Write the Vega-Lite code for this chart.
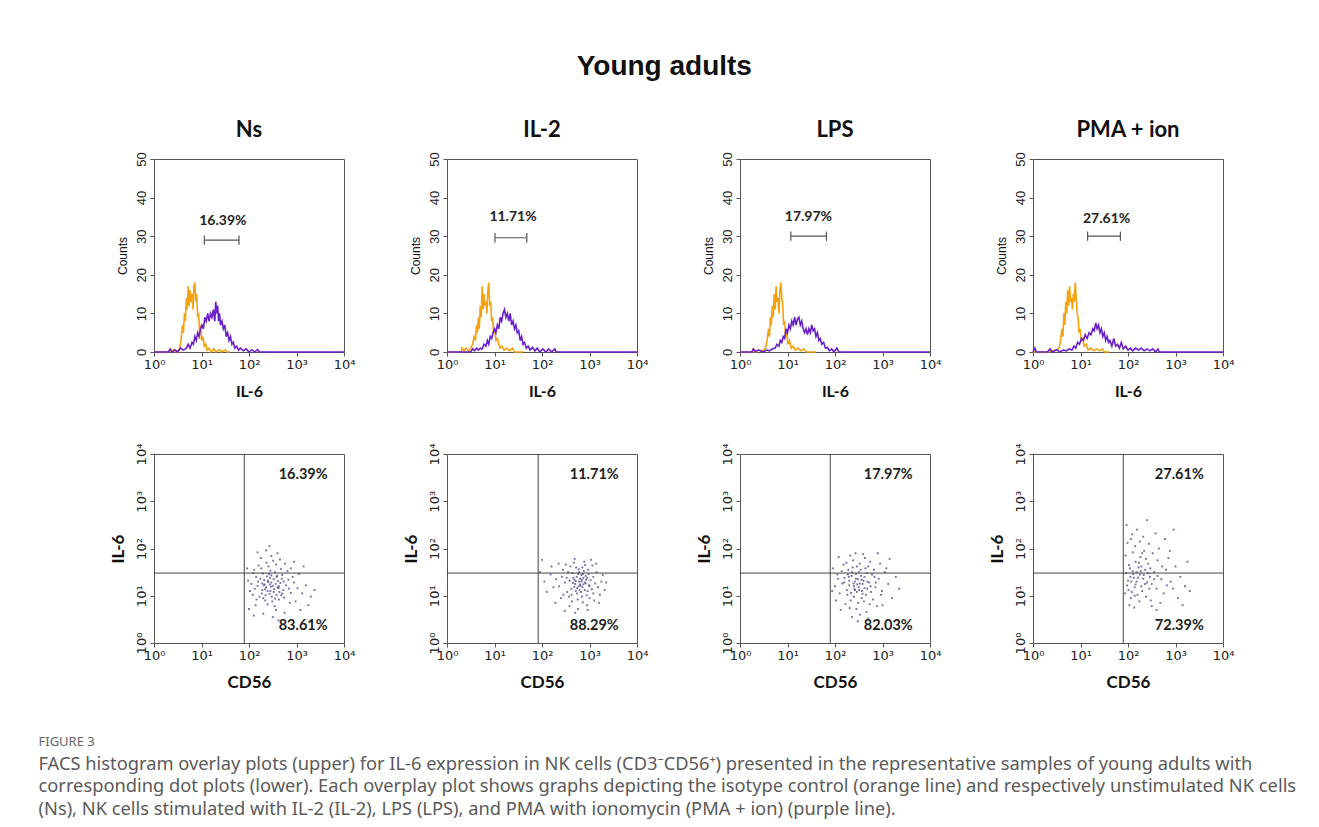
{
"$schema": "https://vega.github.io/schema/vega-lite/v6.json",
"background": "white",
"padding": {"left": 38, "top": 53, "right": 10, "bottom": 10},
"config": {
  "font": "Liberation Sans",
  "view": {"stroke": "#555", "strokeWidth": 1},
  "axis": {"domain": false, "grid": false, "tickColor": "#555", "tickSize": 4, "labelColor": "#222", "labelFont": "Liberation Sans", "labelFontSize": 12.5, "labelFlush": false, "labelOverlap": false, "labelBound": false, "labelSeparation": 0, "titleColor": "#111"}
},
"title": {"text": "Young adults", "font": "Liberation Sans", "fontSize": 28, "fontWeight": "bold", "color": "#111", "anchor": "middle", "frame": "bounds", "offset": 38, "dx": -3},
"spacing": 295,
"bounds": "flush",
"datasets": {
"hist": [
{"p":"Ns","k":"i","x":0,"c":0},{"p":"Ns","k":"i","x":0.3,"c":0},{"p":"Ns","k":"i","x":0.4,"c":0.5},{"p":"Ns","k":"i","x":0.48,"c":0},{"p":"Ns","k":"i","x":0.54,"c":1},{"p":"Ns","k":"i","x":0.57,"c":3},{"p":"Ns","k":"i","x":0.6,"c":7},{"p":"Ns","k":"i","x":0.62,"c":5},{"p":"Ns","k":"i","x":0.64,"c":10},{"p":"Ns","k":"i","x":0.66,"c":8},{"p":"Ns","k":"i","x":0.68,"c":14},{"p":"Ns","k":"i","x":0.7,"c":11},{"p":"Ns","k":"i","x":0.72,"c":17},{"p":"Ns","k":"i","x":0.74,"c":12},{"p":"Ns","k":"i","x":0.76,"c":16},{"p":"Ns","k":"i","x":0.78,"c":13},{"p":"Ns","k":"i","x":0.8,"c":15},{"p":"Ns","k":"i","x":0.82,"c":11},{"p":"Ns","k":"i","x":0.84,"c":17},{"p":"Ns","k":"i","x":0.86,"c":18},{"p":"Ns","k":"i","x":0.88,"c":13},{"p":"Ns","k":"i","x":0.9,"c":15},{"p":"Ns","k":"i","x":0.92,"c":9},{"p":"Ns","k":"i","x":0.94,"c":10},{"p":"Ns","k":"i","x":0.96,"c":5},{"p":"Ns","k":"i","x":0.98,"c":7},{"p":"Ns","k":"i","x":1.0,"c":3},{"p":"Ns","k":"i","x":1.03,"c":4},{"p":"Ns","k":"i","x":1.06,"c":1.5},{"p":"Ns","k":"i","x":1.09,"c":2},{"p":"Ns","k":"i","x":1.12,"c":0.5},{"p":"Ns","k":"i","x":1.16,"c":1},{"p":"Ns","k":"i","x":1.2,"c":0},{"p":"Ns","k":"i","x":1.26,"c":0.8},{"p":"Ns","k":"i","x":1.3,"c":0},{"p":"Ns","k":"i","x":1.38,"c":0.6},{"p":"Ns","k":"i","x":1.42,"c":0},{"p":"Ns","k":"i","x":1.5,"c":0.5},{"p":"Ns","k":"i","x":1.55,"c":0},{"p":"Ns","k":"i","x":1.6,"c":0},
{"p":"Ns","k":"s","x":0,"c":0},{"p":"Ns","k":"s","x":0.3,"c":0},{"p":"Ns","k":"s","x":0.34,"c":0.8},{"p":"Ns","k":"s","x":0.38,"c":0},{"p":"Ns","k":"s","x":0.44,"c":0.6},{"p":"Ns","k":"s","x":0.5,"c":0},{"p":"Ns","k":"s","x":0.56,"c":1},{"p":"Ns","k":"s","x":0.62,"c":0.5},{"p":"Ns","k":"s","x":0.68,"c":1},{"p":"Ns","k":"s","x":0.72,"c":2},{"p":"Ns","k":"s","x":0.76,"c":1},{"p":"Ns","k":"s","x":0.8,"c":2.5},{"p":"Ns","k":"s","x":0.83,"c":2},{"p":"Ns","k":"s","x":0.86,"c":4},{"p":"Ns","k":"s","x":0.89,"c":3},{"p":"Ns","k":"s","x":0.92,"c":5},{"p":"Ns","k":"s","x":0.95,"c":4},{"p":"Ns","k":"s","x":0.98,"c":6},{"p":"Ns","k":"s","x":1.01,"c":7},{"p":"Ns","k":"s","x":1.04,"c":6},{"p":"Ns","k":"s","x":1.07,"c":9},{"p":"Ns","k":"s","x":1.1,"c":8},{"p":"Ns","k":"s","x":1.13,"c":10},{"p":"Ns","k":"s","x":1.16,"c":8},{"p":"Ns","k":"s","x":1.19,"c":10},{"p":"Ns","k":"s","x":1.22,"c":9},{"p":"Ns","k":"s","x":1.25,"c":11},{"p":"Ns","k":"s","x":1.28,"c":8},{"p":"Ns","k":"s","x":1.3,"c":13},{"p":"Ns","k":"s","x":1.32,"c":10},{"p":"Ns","k":"s","x":1.34,"c":12},{"p":"Ns","k":"s","x":1.36,"c":8},{"p":"Ns","k":"s","x":1.38,"c":10},{"p":"Ns","k":"s","x":1.4,"c":7},{"p":"Ns","k":"s","x":1.43,"c":8},{"p":"Ns","k":"s","x":1.46,"c":6},{"p":"Ns","k":"s","x":1.49,"c":7},{"p":"Ns","k":"s","x":1.52,"c":4},{"p":"Ns","k":"s","x":1.55,"c":5},{"p":"Ns","k":"s","x":1.58,"c":3},{"p":"Ns","k":"s","x":1.61,"c":4},{"p":"Ns","k":"s","x":1.64,"c":2},{"p":"Ns","k":"s","x":1.67,"c":2.5},{"p":"Ns","k":"s","x":1.7,"c":1},{"p":"Ns","k":"s","x":1.74,"c":1.5},{"p":"Ns","k":"s","x":1.78,"c":0.5},{"p":"Ns","k":"s","x":1.82,"c":1},{"p":"Ns","k":"s","x":1.88,"c":0.3},{"p":"Ns","k":"s","x":1.94,"c":0.8},{"p":"Ns","k":"s","x":2.0,"c":0},{"p":"Ns","k":"s","x":2.06,"c":0.6},{"p":"Ns","k":"s","x":2.12,"c":0},{"p":"Ns","k":"s","x":2.18,"c":0.6},{"p":"Ns","k":"s","x":2.22,"c":0},{"p":"Ns","k":"s","x":4,"c":0},
{"p":"Ns","k":"b","x":1.06,"x2":1.79,"c":29},{"p":"Ns","k":"e","x":1.06,"c":27.8,"c2":30.2},{"p":"Ns","k":"e","x":1.79,"c":27.8,"c2":30.2},{"p":"Ns","k":"l","x":1.45,"c":34,"t":"16.39%"},
{"p":"IL-2","k":"i","x":0,"c":0},{"p":"IL-2","k":"i","x":0.3,"c":0},{"p":"IL-2","k":"i","x":0.32,"c":1},{"p":"IL-2","k":"i","x":0.36,"c":0.3},{"p":"IL-2","k":"i","x":0.4,"c":1},{"p":"IL-2","k":"i","x":0.46,"c":0.2},{"p":"IL-2","k":"i","x":0.5,"c":1},{"p":"IL-2","k":"i","x":0.54,"c":2},{"p":"IL-2","k":"i","x":0.57,"c":4},{"p":"IL-2","k":"i","x":0.6,"c":3},{"p":"IL-2","k":"i","x":0.62,"c":7},{"p":"IL-2","k":"i","x":0.64,"c":5},{"p":"IL-2","k":"i","x":0.66,"c":9},{"p":"IL-2","k":"i","x":0.68,"c":6},{"p":"IL-2","k":"i","x":0.7,"c":12},{"p":"IL-2","k":"i","x":0.72,"c":9},{"p":"IL-2","k":"i","x":0.74,"c":17},{"p":"IL-2","k":"i","x":0.76,"c":11},{"p":"IL-2","k":"i","x":0.78,"c":15},{"p":"IL-2","k":"i","x":0.8,"c":12},{"p":"IL-2","k":"i","x":0.82,"c":13},{"p":"IL-2","k":"i","x":0.84,"c":10},{"p":"IL-2","k":"i","x":0.86,"c":16},{"p":"IL-2","k":"i","x":0.88,"c":18},{"p":"IL-2","k":"i","x":0.9,"c":12},{"p":"IL-2","k":"i","x":0.92,"c":13},{"p":"IL-2","k":"i","x":0.94,"c":8},{"p":"IL-2","k":"i","x":0.96,"c":9},{"p":"IL-2","k":"i","x":0.98,"c":5},{"p":"IL-2","k":"i","x":1.0,"c":6},{"p":"IL-2","k":"i","x":1.03,"c":3},{"p":"IL-2","k":"i","x":1.06,"c":3.5},{"p":"IL-2","k":"i","x":1.09,"c":2},{"p":"IL-2","k":"i","x":1.12,"c":1},{"p":"IL-2","k":"i","x":1.16,"c":1.5},{"p":"IL-2","k":"i","x":1.2,"c":0.5},{"p":"IL-2","k":"i","x":1.26,"c":1},{"p":"IL-2","k":"i","x":1.32,"c":0.3},{"p":"IL-2","k":"i","x":1.38,"c":1},{"p":"IL-2","k":"i","x":1.42,"c":0},{"p":"IL-2","k":"i","x":1.6,"c":0},
{"p":"IL-2","k":"s","x":0,"c":0},{"p":"IL-2","k":"s","x":0.5,"c":0},{"p":"IL-2","k":"s","x":0.54,"c":0.8},{"p":"IL-2","k":"s","x":0.58,"c":0.3},{"p":"IL-2","k":"s","x":0.62,"c":1},{"p":"IL-2","k":"s","x":0.66,"c":0.5},{"p":"IL-2","k":"s","x":0.7,"c":1},{"p":"IL-2","k":"s","x":0.74,"c":0.8},{"p":"IL-2","k":"s","x":0.78,"c":2},{"p":"IL-2","k":"s","x":0.82,"c":1.5},{"p":"IL-2","k":"s","x":0.85,"c":3},{"p":"IL-2","k":"s","x":0.88,"c":2},{"p":"IL-2","k":"s","x":0.91,"c":4},{"p":"IL-2","k":"s","x":0.94,"c":3.5},{"p":"IL-2","k":"s","x":0.97,"c":5},{"p":"IL-2","k":"s","x":1.0,"c":6},{"p":"IL-2","k":"s","x":1.03,"c":5},{"p":"IL-2","k":"s","x":1.06,"c":7},{"p":"IL-2","k":"s","x":1.09,"c":6},{"p":"IL-2","k":"s","x":1.12,"c":9},{"p":"IL-2","k":"s","x":1.15,"c":8},{"p":"IL-2","k":"s","x":1.18,"c":10},{"p":"IL-2","k":"s","x":1.21,"c":11},{"p":"IL-2","k":"s","x":1.24,"c":9},{"p":"IL-2","k":"s","x":1.27,"c":10},{"p":"IL-2","k":"s","x":1.3,"c":8},{"p":"IL-2","k":"s","x":1.33,"c":10},{"p":"IL-2","k":"s","x":1.36,"c":7},{"p":"IL-2","k":"s","x":1.39,"c":8},{"p":"IL-2","k":"s","x":1.42,"c":6},{"p":"IL-2","k":"s","x":1.45,"c":7},{"p":"IL-2","k":"s","x":1.48,"c":5},{"p":"IL-2","k":"s","x":1.51,"c":5.5},{"p":"IL-2","k":"s","x":1.54,"c":3},{"p":"IL-2","k":"s","x":1.57,"c":4},{"p":"IL-2","k":"s","x":1.6,"c":2},{"p":"IL-2","k":"s","x":1.63,"c":2.5},{"p":"IL-2","k":"s","x":1.67,"c":1},{"p":"IL-2","k":"s","x":1.71,"c":1.5},{"p":"IL-2","k":"s","x":1.75,"c":0.5},{"p":"IL-2","k":"s","x":1.8,"c":1.2},{"p":"IL-2","k":"s","x":1.85,"c":0.3},{"p":"IL-2","k":"s","x":1.9,"c":1},{"p":"IL-2","k":"s","x":1.95,"c":0},{"p":"IL-2","k":"s","x":2.02,"c":0.8},{"p":"IL-2","k":"s","x":2.08,"c":0},{"p":"IL-2","k":"s","x":2.14,"c":0.8},{"p":"IL-2","k":"s","x":2.2,"c":0},{"p":"IL-2","k":"s","x":2.27,"c":0.8},{"p":"IL-2","k":"s","x":2.3,"c":0},{"p":"IL-2","k":"s","x":4,"c":0},
{"p":"IL-2","k":"b","x":1.01,"x2":1.68,"c":29.6},{"p":"IL-2","k":"e","x":1.01,"c":28.4,"c2":30.8},{"p":"IL-2","k":"e","x":1.68,"c":28.4,"c2":30.8},{"p":"IL-2","k":"l","x":1.39,"c":35,"t":"11.71%"},
{"p":"LPS","k":"i","x":0,"c":0},{"p":"LPS","k":"i","x":0.25,"c":0},{"p":"LPS","k":"i","x":0.28,"c":0.8},{"p":"LPS","k":"i","x":0.32,"c":0},{"p":"LPS","k":"i","x":0.4,"c":0.5},{"p":"LPS","k":"i","x":0.48,"c":0.3},{"p":"LPS","k":"i","x":0.54,"c":1},{"p":"LPS","k":"i","x":0.57,"c":3},{"p":"LPS","k":"i","x":0.6,"c":6},{"p":"LPS","k":"i","x":0.62,"c":4},{"p":"LPS","k":"i","x":0.64,"c":9},{"p":"LPS","k":"i","x":0.66,"c":7},{"p":"LPS","k":"i","x":0.68,"c":12},{"p":"LPS","k":"i","x":0.7,"c":9},{"p":"LPS","k":"i","x":0.72,"c":15},{"p":"LPS","k":"i","x":0.74,"c":11},{"p":"LPS","k":"i","x":0.76,"c":17},{"p":"LPS","k":"i","x":0.78,"c":13},{"p":"LPS","k":"i","x":0.8,"c":14},{"p":"LPS","k":"i","x":0.82,"c":10},{"p":"LPS","k":"i","x":0.84,"c":16},{"p":"LPS","k":"i","x":0.86,"c":18},{"p":"LPS","k":"i","x":0.88,"c":14},{"p":"LPS","k":"i","x":0.9,"c":12},{"p":"LPS","k":"i","x":0.92,"c":7},{"p":"LPS","k":"i","x":0.94,"c":8},{"p":"LPS","k":"i","x":0.96,"c":4},{"p":"LPS","k":"i","x":0.98,"c":5},{"p":"LPS","k":"i","x":1.01,"c":2},{"p":"LPS","k":"i","x":1.04,"c":3},{"p":"LPS","k":"i","x":1.08,"c":1},{"p":"LPS","k":"i","x":1.12,"c":1.5},{"p":"LPS","k":"i","x":1.16,"c":0.5},{"p":"LPS","k":"i","x":1.22,"c":1},{"p":"LPS","k":"i","x":1.28,"c":0.3},{"p":"LPS","k":"i","x":1.34,"c":0.8},{"p":"LPS","k":"i","x":1.4,"c":0},{"p":"LPS","k":"i","x":1.6,"c":0},
{"p":"LPS","k":"s","x":0,"c":0},{"p":"LPS","k":"s","x":0.25,"c":0},{"p":"LPS","k":"s","x":0.28,"c":0.8},{"p":"LPS","k":"s","x":0.32,"c":0.2},{"p":"LPS","k":"s","x":0.4,"c":0.5},{"p":"LPS","k":"s","x":0.48,"c":0},{"p":"LPS","k":"s","x":0.56,"c":0.5},{"p":"LPS","k":"s","x":0.62,"c":0.3},{"p":"LPS","k":"s","x":0.68,"c":0.8},{"p":"LPS","k":"s","x":0.74,"c":1},{"p":"LPS","k":"s","x":0.78,"c":2},{"p":"LPS","k":"s","x":0.82,"c":1.5},{"p":"LPS","k":"s","x":0.85,"c":3},{"p":"LPS","k":"s","x":0.88,"c":2.5},{"p":"LPS","k":"s","x":0.91,"c":4},{"p":"LPS","k":"s","x":0.94,"c":3.5},{"p":"LPS","k":"s","x":0.97,"c":6},{"p":"LPS","k":"s","x":1.0,"c":5},{"p":"LPS","k":"s","x":1.03,"c":7},{"p":"LPS","k":"s","x":1.06,"c":6},{"p":"LPS","k":"s","x":1.09,"c":8},{"p":"LPS","k":"s","x":1.12,"c":7},{"p":"LPS","k":"s","x":1.15,"c":9},{"p":"LPS","k":"s","x":1.18,"c":7},{"p":"LPS","k":"s","x":1.21,"c":8.5},{"p":"LPS","k":"s","x":1.24,"c":9},{"p":"LPS","k":"s","x":1.27,"c":7},{"p":"LPS","k":"s","x":1.3,"c":8},{"p":"LPS","k":"s","x":1.33,"c":6},{"p":"LPS","k":"s","x":1.36,"c":5},{"p":"LPS","k":"s","x":1.39,"c":6},{"p":"LPS","k":"s","x":1.42,"c":4.5},{"p":"LPS","k":"s","x":1.45,"c":6},{"p":"LPS","k":"s","x":1.48,"c":5},{"p":"LPS","k":"s","x":1.51,"c":7},{"p":"LPS","k":"s","x":1.54,"c":5.5},{"p":"LPS","k":"s","x":1.57,"c":6},{"p":"LPS","k":"s","x":1.6,"c":4},{"p":"LPS","k":"s","x":1.63,"c":5},{"p":"LPS","k":"s","x":1.66,"c":3},{"p":"LPS","k":"s","x":1.69,"c":3.5},{"p":"LPS","k":"s","x":1.72,"c":2},{"p":"LPS","k":"s","x":1.76,"c":2.5},{"p":"LPS","k":"s","x":1.8,"c":1},{"p":"LPS","k":"s","x":1.84,"c":1.2},{"p":"LPS","k":"s","x":1.88,"c":0.3},{"p":"LPS","k":"s","x":1.93,"c":0.8},{"p":"LPS","k":"s","x":1.98,"c":0},{"p":"LPS","k":"s","x":2.04,"c":1},{"p":"LPS","k":"s","x":2.08,"c":0},{"p":"LPS","k":"s","x":4,"c":0},
{"p":"LPS","k":"b","x":1.07,"x2":1.82,"c":30},{"p":"LPS","k":"e","x":1.07,"c":28.8,"c2":31.2},{"p":"LPS","k":"e","x":1.82,"c":28.8,"c2":31.2},{"p":"LPS","k":"l","x":1.44,"c":35,"t":"17.97%"},
{"p":"PMA + ion","k":"i","x":0,"c":0},{"p":"PMA + ion","k":"i","x":0.3,"c":0},{"p":"PMA + ion","k":"i","x":0.4,"c":0.3},{"p":"PMA + ion","k":"i","x":0.5,"c":0.5},{"p":"PMA + ion","k":"i","x":0.55,"c":1},{"p":"PMA + ion","k":"i","x":0.58,"c":3},{"p":"PMA + ion","k":"i","x":0.61,"c":6},{"p":"PMA + ion","k":"i","x":0.63,"c":4},{"p":"PMA + ion","k":"i","x":0.65,"c":10},{"p":"PMA + ion","k":"i","x":0.67,"c":7},{"p":"PMA + ion","k":"i","x":0.69,"c":13},{"p":"PMA + ion","k":"i","x":0.71,"c":10},{"p":"PMA + ion","k":"i","x":0.73,"c":16},{"p":"PMA + ion","k":"i","x":0.75,"c":12},{"p":"PMA + ion","k":"i","x":0.77,"c":17},{"p":"PMA + ion","k":"i","x":0.79,"c":13},{"p":"PMA + ion","k":"i","x":0.81,"c":14},{"p":"PMA + ion","k":"i","x":0.83,"c":11},{"p":"PMA + ion","k":"i","x":0.85,"c":15},{"p":"PMA + ion","k":"i","x":0.87,"c":13},{"p":"PMA + ion","k":"i","x":0.89,"c":18},{"p":"PMA + ion","k":"i","x":0.91,"c":14},{"p":"PMA + ion","k":"i","x":0.93,"c":10},{"p":"PMA + ion","k":"i","x":0.95,"c":9},{"p":"PMA + ion","k":"i","x":0.97,"c":5},{"p":"PMA + ion","k":"i","x":0.99,"c":6},{"p":"PMA + ion","k":"i","x":1.02,"c":3},{"p":"PMA + ion","k":"i","x":1.05,"c":3.5},{"p":"PMA + ion","k":"i","x":1.08,"c":1.5},{"p":"PMA + ion","k":"i","x":1.12,"c":2},{"p":"PMA + ion","k":"i","x":1.16,"c":0.5},{"p":"PMA + ion","k":"i","x":1.22,"c":1},{"p":"PMA + ion","k":"i","x":1.28,"c":0.3},{"p":"PMA + ion","k":"i","x":1.34,"c":0.8},{"p":"PMA + ion","k":"i","x":1.4,"c":0.3},{"p":"PMA + ion","k":"i","x":1.46,"c":0.8},{"p":"PMA + ion","k":"i","x":1.5,"c":0},{"p":"PMA + ion","k":"i","x":1.6,"c":0},
{"p":"PMA + ion","k":"s","x":0,"c":0},{"p":"PMA + ion","k":"s","x":0.04,"c":1},{"p":"PMA + ion","k":"s","x":0.07,"c":0},{"p":"PMA + ion","k":"s","x":0.3,"c":0},{"p":"PMA + ion","k":"s","x":0.36,"c":0.8},{"p":"PMA + ion","k":"s","x":0.4,"c":0},{"p":"PMA + ion","k":"s","x":0.5,"c":0.6},{"p":"PMA + ion","k":"s","x":0.56,"c":0},{"p":"PMA + ion","k":"s","x":0.64,"c":0.5},{"p":"PMA + ion","k":"s","x":0.7,"c":0.3},{"p":"PMA + ion","k":"s","x":0.76,"c":0.8},{"p":"PMA + ion","k":"s","x":0.82,"c":0.5},{"p":"PMA + ion","k":"s","x":0.86,"c":1.5},{"p":"PMA + ion","k":"s","x":0.9,"c":1},{"p":"PMA + ion","k":"s","x":0.94,"c":2.5},{"p":"PMA + ion","k":"s","x":0.98,"c":2},{"p":"PMA + ion","k":"s","x":1.02,"c":3.5},{"p":"PMA + ion","k":"s","x":1.06,"c":3},{"p":"PMA + ion","k":"s","x":1.1,"c":4.5},{"p":"PMA + ion","k":"s","x":1.14,"c":3.5},{"p":"PMA + ion","k":"s","x":1.18,"c":5},{"p":"PMA + ion","k":"s","x":1.22,"c":4.5},{"p":"PMA + ion","k":"s","x":1.26,"c":6},{"p":"PMA + ion","k":"s","x":1.29,"c":5.5},{"p":"PMA + ion","k":"s","x":1.32,"c":7.5},{"p":"PMA + ion","k":"s","x":1.35,"c":6},{"p":"PMA + ion","k":"s","x":1.38,"c":7},{"p":"PMA + ion","k":"s","x":1.41,"c":5},{"p":"PMA + ion","k":"s","x":1.44,"c":6},{"p":"PMA + ion","k":"s","x":1.47,"c":4},{"p":"PMA + ion","k":"s","x":1.5,"c":5},{"p":"PMA + ion","k":"s","x":1.53,"c":3},{"p":"PMA + ion","k":"s","x":1.56,"c":4},{"p":"PMA + ion","k":"s","x":1.59,"c":2.5},{"p":"PMA + ion","k":"s","x":1.62,"c":3},{"p":"PMA + ion","k":"s","x":1.66,"c":1.5},{"p":"PMA + ion","k":"s","x":1.7,"c":3.5},{"p":"PMA + ion","k":"s","x":1.74,"c":1.5},{"p":"PMA + ion","k":"s","x":1.78,"c":2},{"p":"PMA + ion","k":"s","x":1.82,"c":1},{"p":"PMA + ion","k":"s","x":1.86,"c":2.5},{"p":"PMA + ion","k":"s","x":1.9,"c":0.8},{"p":"PMA + ion","k":"s","x":1.95,"c":1.5},{"p":"PMA + ion","k":"s","x":2.0,"c":0.5},{"p":"PMA + ion","k":"s","x":2.05,"c":1},{"p":"PMA + ion","k":"s","x":2.1,"c":0.3},{"p":"PMA + ion","k":"s","x":2.16,"c":1},{"p":"PMA + ion","k":"s","x":2.22,"c":0.5},{"p":"PMA + ion","k":"s","x":2.28,"c":1},{"p":"PMA + ion","k":"s","x":2.34,"c":0.3},{"p":"PMA + ion","k":"s","x":2.4,"c":0.8},{"p":"PMA + ion","k":"s","x":2.46,"c":0.3},{"p":"PMA + ion","k":"s","x":2.52,"c":0.8},{"p":"PMA + ion","k":"s","x":2.58,"c":0},{"p":"PMA + ion","k":"s","x":2.63,"c":0.8},{"p":"PMA + ion","k":"s","x":2.66,"c":0},{"p":"PMA + ion","k":"s","x":4,"c":0},
{"p":"PMA + ion","k":"b","x":1.15,"x2":1.84,"c":30},{"p":"PMA + ion","k":"e","x":1.15,"c":28.8,"c2":31.2},{"p":"PMA + ion","k":"e","x":1.84,"c":28.8,"c2":31.2},{"p":"PMA + ion","k":"l","x":1.55,"c":34.5,"t":"27.61%"}
],
"dots": [
{"p":"Ns","k":"g","a":1.9,"b":1.48},{"p":"Ns","k":"l","a":3.14,"b":3.55,"t":"16.39%"},{"p":"Ns","k":"l","a":3.14,"b":0.36,"t":"83.61%"},
{"p":"IL-2","k":"g","a":1.92,"b":1.48},{"p":"IL-2","k":"l","a":3.1,"b":3.55,"t":"11.71%"},{"p":"IL-2","k":"l","a":3.1,"b":0.36,"t":"88.29%"},
{"p":"LPS","k":"g","a":1.9,"b":1.48},{"p":"LPS","k":"l","a":3.12,"b":3.55,"t":"17.97%"},{"p":"LPS","k":"l","a":3.12,"b":0.36,"t":"82.03%"},
{"p":"PMA + ion","k":"g","a":1.9,"b":1.48},{"p":"PMA + ion","k":"l","a":3.08,"b":3.55,"t":"27.61%"},{"p":"PMA + ion","k":"l","a":3.08,"b":0.36,"t":"72.39%"},
{"p":"Ns","k":"p","a":2.31,"b":1.22},{"p":"Ns","k":"p","a":2.45,"b":1.10},{"p":"Ns","k":"p","a":2.52,"b":1.35},{"p":"Ns","k":"p","a":2.38,"b":1.41},{"p":"Ns","k":"p","a":2.60,"b":1.18},{"p":"Ns","k":"p","a":2.27,"b":1.05},{"p":"Ns","k":"p","a":2.48,"b":0.98},{"p":"Ns","k":"p","a":2.66,"b":1.27},{"p":"Ns","k":"p","a":2.19,"b":1.30},{"p":"Ns","k":"p","a":2.55,"b":1.50},
{"p":"Ns","k":"p","a":2.41,"b":1.62},{"p":"Ns","k":"p","a":2.72,"b":1.12},{"p":"Ns","k":"p","a":2.34,"b":0.90},{"p":"Ns","k":"p","a":2.58,"b":1.02},{"p":"Ns","k":"p","a":2.12,"b":1.15},{"p":"Ns","k":"p","a":2.83,"b":1.34},{"p":"Ns","k":"p","a":2.47,"b":1.28},{"p":"Ns","k":"p","a":2.29,"b":1.47},{"p":"Ns","k":"p","a":2.63,"b":0.92},{"p":"Ns","k":"p","a":2.36,"b":1.18},
{"p":"Ns","k":"p","a":2.50,"b":1.21},{"p":"Ns","k":"p","a":2.44,"b":1.38},{"p":"Ns","k":"p","a":2.70,"b":1.44},{"p":"Ns","k":"p","a":2.22,"b":0.98},{"p":"Ns","k":"p","a":2.57,"b":1.66},{"p":"Ns","k":"p","a":2.05,"b":1.25},{"p":"Ns","k":"p","a":2.88,"b":1.06},{"p":"Ns","k":"p","a":2.39,"b":0.82},{"p":"Ns","k":"p","a":2.61,"b":1.31},{"p":"Ns","k":"p","a":2.26,"b":1.58},
{"p":"Ns","k":"p","a":2.53,"b":1.14},{"p":"Ns","k":"p","a":2.15,"b":1.40},{"p":"Ns","k":"p","a":2.78,"b":1.22},{"p":"Ns","k":"p","a":2.43,"b":1.04},{"p":"Ns","k":"p","a":2.67,"b":1.57},{"p":"Ns","k":"p","a":2.32,"b":1.33},{"p":"Ns","k":"p","a":2.49,"b":0.88},{"p":"Ns","k":"p","a":2.95,"b":1.28},{"p":"Ns","k":"p","a":2.08,"b":1.02},{"p":"Ns","k":"p","a":2.59,"b":1.42},
{"p":"Ns","k":"p","a":2.37,"b":1.70},{"p":"Ns","k":"p","a":2.74,"b":0.96},{"p":"Ns","k":"p","a":2.18,"b":1.21},{"p":"Ns","k":"p","a":2.46,"b":1.19},{"p":"Ns","k":"p","a":2.64,"b":1.08},{"p":"Ns","k":"p","a":2.28,"b":1.12},{"p":"Ns","k":"p","a":2.56,"b":1.25},{"p":"Ns","k":"p","a":2.42,"b":1.46},{"p":"Ns","k":"p","a":2.81,"b":1.52},{"p":"Ns","k":"p","a":2.24,"b":1.36},
{"p":"Ns","k":"p","a":3.02,"b":1.16},{"p":"Ns","k":"p","a":2.11,"b":1.55},{"p":"Ns","k":"p","a":2.69,"b":1.36},{"p":"Ns","k":"p","a":2.35,"b":1.01},{"p":"Ns","k":"p","a":2.51,"b":1.74},{"p":"Ns","k":"p","a":1.98,"b":1.32},{"p":"Ns","k":"p","a":2.86,"b":0.85},{"p":"Ns","k":"p","a":2.40,"b":1.29},{"p":"Ns","k":"p","a":2.62,"b":1.16},{"p":"Ns","k":"p","a":2.30,"b":0.95},
{"p":"Ns","k":"p","a":3.12,"b":1.05},{"p":"Ns","k":"p","a":2.14,"b":0.80},{"p":"Ns","k":"p","a":2.76,"b":1.68},{"p":"Ns","k":"p","a":2.54,"b":0.78},{"p":"Ns","k":"p","a":2.20,"b":1.64},{"p":"Ns","k":"p","a":2.92,"b":1.40},{"p":"Ns","k":"p","a":2.45,"b":1.53},{"p":"Ns","k":"p","a":2.33,"b":1.24},{"p":"Ns","k":"p","a":2.68,"b":1.01},{"p":"Ns","k":"p","a":2.02,"b":1.10},
{"p":"Ns","k":"p","a":3.20,"b":1.22},{"p":"Ns","k":"p","a":2.57,"b":0.70},{"p":"Ns","k":"p","a":2.25,"b":1.80},{"p":"Ns","k":"p","a":2.84,"b":1.15},{"p":"Ns","k":"p","a":2.47,"b":1.84},{"p":"Ns","k":"p","a":2.16,"b":0.92},{"p":"Ns","k":"p","a":3.05,"b":1.46},{"p":"Ns","k":"p","a":2.39,"b":1.10},{"p":"Ns","k":"p","a":2.73,"b":1.30},{"p":"Ns","k":"p","a":2.60,"b":1.90},
{"p":"Ns","k":"p","a":3.30,"b":0.98},{"p":"Ns","k":"p","a":2.09,"b":1.48},{"p":"Ns","k":"p","a":2.98,"b":0.88},{"p":"Ns","k":"p","a":2.30,"b":0.62},{"p":"Ns","k":"p","a":2.65,"b":1.77},{"p":"Ns","k":"p","a":2.00,"b":0.72},{"p":"Ns","k":"p","a":3.15,"b":1.62},{"p":"Ns","k":"p","a":2.50,"b":0.55},{"p":"Ns","k":"p","a":2.88,"b":1.58},{"p":"Ns","k":"p","a":2.18,"b":1.92},
{"p":"Ns","k":"p","a":3.38,"b":1.12},{"p":"Ns","k":"p","a":2.75,"b":0.64},{"p":"Ns","k":"p","a":1.96,"b":1.58},{"p":"Ns","k":"p","a":2.43,"b":2.05},{"p":"Ns","k":"p","a":3.25,"b":0.80},{"p":"Ns","k":"p","a":2.62,"b":0.48},{"p":"Ns","k":"p","a":2.36,"b":1.96},{"p":"Ns","k":"p","a":2.95,"b":1.72},{"p":"Ns","k":"p","a":2.10,"b":0.58},{"p":"Ns","k":"p","a":3.08,"b":0.70},
{"p":"Ns","k":"p","a":2.52,"b":1.08},{"p":"Ns","k":"p","a":2.40,"b":1.32},{"p":"Ns","k":"p","a":2.58,"b":1.40},{"p":"Ns","k":"p","a":2.34,"b":1.14},{"p":"Ns","k":"p","a":2.47,"b":1.43},{"p":"Ns","k":"p","a":2.63,"b":1.20},{"p":"Ns","k":"p","a":2.28,"b":1.26},{"p":"Ns","k":"p","a":2.55,"b":0.94},{"p":"Ns","k":"p","a":2.70,"b":1.05},{"p":"Ns","k":"p","a":2.44,"b":1.24},
{"p":"IL-2","k":"p","a":2.78,"b":1.30},{"p":"IL-2","k":"p","a":2.85,"b":1.18},{"p":"IL-2","k":"p","a":2.92,"b":1.42},{"p":"IL-2","k":"p","a":2.70,"b":1.25},{"p":"IL-2","k":"p","a":2.96,"b":1.10},{"p":"IL-2","k":"p","a":2.66,"b":1.38},{"p":"IL-2","k":"p","a":2.88,"b":1.52},{"p":"IL-2","k":"p","a":2.74,"b":1.05},{"p":"IL-2","k":"p","a":3.02,"b":1.33},{"p":"IL-2","k":"p","a":2.81,"b":1.21},
{"p":"IL-2","k":"p","a":2.62,"b":1.15},{"p":"IL-2","k":"p","a":2.90,"b":1.28},{"p":"IL-2","k":"p","a":2.76,"b":1.46},{"p":"IL-2","k":"p","a":2.99,"b":1.22},{"p":"IL-2","k":"p","a":2.58,"b":1.32},{"p":"IL-2","k":"p","a":2.84,"b":0.98},{"p":"IL-2","k":"p","a":3.08,"b":1.40},{"p":"IL-2","k":"p","a":2.72,"b":1.60},{"p":"IL-2","k":"p","a":2.94,"b":1.01},{"p":"IL-2","k":"p","a":2.68,"b":1.19},
{"p":"IL-2","k":"p","a":2.80,"b":1.36},{"p":"IL-2","k":"p","a":3.05,"b":1.14},{"p":"IL-2","k":"p","a":2.64,"b":1.48},{"p":"IL-2","k":"p","a":2.87,"b":1.24},{"p":"IL-2","k":"p","a":2.53,"b":1.08},{"p":"IL-2","k":"p","a":2.97,"b":1.55},{"p":"IL-2","k":"p","a":2.75,"b":0.92},{"p":"IL-2","k":"p","a":3.12,"b":1.26},{"p":"IL-2","k":"p","a":2.60,"b":1.62},{"p":"IL-2","k":"p","a":2.83,"b":1.44},
{"p":"IL-2","k":"p","a":2.48,"b":1.28},{"p":"IL-2","k":"p","a":3.00,"b":0.95},{"p":"IL-2","k":"p","a":2.71,"b":1.31},{"p":"IL-2","k":"p","a":2.91,"b":1.65},{"p":"IL-2","k":"p","a":2.57,"b":0.98},{"p":"IL-2","k":"p","a":3.15,"b":1.50},{"p":"IL-2","k":"p","a":2.79,"b":1.12},{"p":"IL-2","k":"p","a":2.42,"b":1.40},{"p":"IL-2","k":"p","a":2.86,"b":0.86},{"p":"IL-2","k":"p","a":3.18,"b":1.18},
{"p":"IL-2","k":"p","a":2.67,"b":1.70},{"p":"IL-2","k":"p","a":2.93,"b":1.34},{"p":"IL-2","k":"p","a":2.36,"b":1.20},{"p":"IL-2","k":"p","a":3.22,"b":1.02},{"p":"IL-2","k":"p","a":2.77,"b":1.56},{"p":"IL-2","k":"p","a":2.55,"b":1.50},{"p":"IL-2","k":"p","a":3.06,"b":1.64},{"p":"IL-2","k":"p","a":2.82,"b":1.08},{"p":"IL-2","k":"p","a":2.45,"b":1.02},{"p":"IL-2","k":"p","a":2.98,"b":1.46},
{"p":"IL-2","k":"p","a":2.30,"b":1.35},{"p":"IL-2","k":"p","a":3.25,"b":1.30},{"p":"IL-2","k":"p","a":2.63,"b":0.88},{"p":"IL-2","k":"p","a":2.89,"b":1.72},{"p":"IL-2","k":"p","a":2.73,"b":1.40},{"p":"IL-2","k":"p","a":3.10,"b":0.90},{"p":"IL-2","k":"p","a":2.50,"b":1.66},{"p":"IL-2","k":"p","a":2.95,"b":0.80},{"p":"IL-2","k":"p","a":2.40,"b":0.95},{"p":"IL-2","k":"p","a":3.28,"b":1.44},
{"p":"IL-2","k":"p","a":2.24,"b":1.18},{"p":"IL-2","k":"p","a":2.69,"b":1.78},{"p":"IL-2","k":"p","a":3.03,"b":1.76},{"p":"IL-2","k":"p","a":2.58,"b":0.78},{"p":"IL-2","k":"p","a":2.85,"b":1.60},{"p":"IL-2","k":"p","a":3.32,"b":1.12},{"p":"IL-2","k":"p","a":2.18,"b":1.45},{"p":"IL-2","k":"p","a":2.76,"b":0.72},{"p":"IL-2","k":"p","a":2.52,"b":1.38},{"p":"IL-2","k":"p","a":3.14,"b":1.68},
{"p":"IL-2","k":"p","a":2.10,"b":1.08},{"p":"IL-2","k":"p","a":2.90,"b":1.12},{"p":"IL-2","k":"p","a":2.44,"b":1.55},{"p":"IL-2","k":"p","a":3.00,"b":1.20},{"p":"IL-2","k":"p","a":2.35,"b":1.68},{"p":"IL-2","k":"p","a":2.65,"b":1.27},{"p":"IL-2","k":"p","a":3.20,"b":0.85},{"p":"IL-2","k":"p","a":2.05,"b":1.30},{"p":"IL-2","k":"p","a":2.78,"b":1.50},{"p":"IL-2","k":"p","a":2.96,"b":0.70},
{"p":"IL-2","k":"p","a":1.96,"b":1.50},{"p":"IL-2","k":"p","a":2.62,"b":1.02},{"p":"IL-2","k":"p","a":3.35,"b":1.28},{"p":"IL-2","k":"p","a":2.28,"b":0.85},{"p":"IL-2","k":"p","a":2.84,"b":1.34},{"p":"IL-2","k":"p","a":2.00,"b":1.76},{"p":"IL-2","k":"p","a":2.48,"b":0.68},{"p":"IL-2","k":"p","a":3.08,"b":1.05},{"p":"IL-2","k":"p","a":2.20,"b":1.62},{"p":"IL-2","k":"p","a":2.70,"b":0.64},
{"p":"IL-2","k":"p","a":2.80,"b":1.24},{"p":"IL-2","k":"p","a":2.87,"b":1.38},{"p":"IL-2","k":"p","a":2.74,"b":1.16},{"p":"IL-2","k":"p","a":2.92,"b":1.26},{"p":"IL-2","k":"p","a":2.68,"b":1.34},{"p":"IL-2","k":"p","a":2.83,"b":1.30},{"p":"IL-2","k":"p","a":2.77,"b":1.20},{"p":"IL-2","k":"p","a":2.95,"b":1.38},{"p":"IL-2","k":"p","a":2.71,"b":1.10},{"p":"IL-2","k":"p","a":2.86,"b":1.46},
{"p":"LPS","k":"p","a":2.42,"b":1.30},{"p":"LPS","k":"p","a":2.50,"b":1.18},{"p":"LPS","k":"p","a":2.35,"b":1.42},{"p":"LPS","k":"p","a":2.58,"b":1.25},{"p":"LPS","k":"p","a":2.46,"b":1.08},{"p":"LPS","k":"p","a":2.30,"b":1.22},{"p":"LPS","k":"p","a":2.62,"b":1.40},{"p":"LPS","k":"p","a":2.40,"b":0.98},{"p":"LPS","k":"p","a":2.54,"b":1.55},{"p":"LPS","k":"p","a":2.25,"b":1.12},
{"p":"LPS","k":"p","a":2.68,"b":1.15},{"p":"LPS","k":"p","a":2.48,"b":1.35},{"p":"LPS","k":"p","a":2.37,"b":1.60},{"p":"LPS","k":"p","a":2.72,"b":1.28},{"p":"LPS","k":"p","a":2.20,"b":1.38},{"p":"LPS","k":"p","a":2.56,"b":0.95},{"p":"LPS","k":"p","a":2.44,"b":1.46},{"p":"LPS","k":"p","a":2.33,"b":0.90},{"p":"LPS","k":"p","a":2.65,"b":1.02},{"p":"LPS","k":"p","a":2.52,"b":1.68},
{"p":"LPS","k":"p","a":2.15,"b":1.26},{"p":"LPS","k":"p","a":2.78,"b":1.45},{"p":"LPS","k":"p","a":2.41,"b":1.14},{"p":"LPS","k":"p","a":2.60,"b":1.32},{"p":"LPS","k":"p","a":2.28,"b":1.55},{"p":"LPS","k":"p","a":2.49,"b":0.85},{"p":"LPS","k":"p","a":2.85,"b":1.18},{"p":"LPS","k":"p","a":2.10,"b":1.05},{"p":"LPS","k":"p","a":2.70,"b":1.62},{"p":"LPS","k":"p","a":2.38,"b":1.75},
{"p":"LPS","k":"p","a":2.57,"b":1.10},{"p":"LPS","k":"p","a":2.22,"b":0.82},{"p":"LPS","k":"p","a":2.92,"b":1.36},{"p":"LPS","k":"p","a":2.45,"b":0.72},{"p":"LPS","k":"p","a":2.63,"b":1.80},{"p":"LPS","k":"p","a":2.05,"b":1.45},{"p":"LPS","k":"p","a":2.80,"b":0.92},{"p":"LPS","k":"p","a":2.32,"b":1.85},{"p":"LPS","k":"p","a":2.99,"b":1.10},{"p":"LPS","k":"p","a":2.18,"b":1.66},
{"p":"LPS","k":"p","a":2.53,"b":0.60},{"p":"LPS","k":"p","a":2.74,"b":1.72},{"p":"LPS","k":"p","a":2.00,"b":1.20},{"p":"LPS","k":"p","a":3.05,"b":1.50},{"p":"LPS","k":"p","a":2.43,"b":1.90},{"p":"LPS","k":"p","a":2.88,"b":0.78},{"p":"LPS","k":"p","a":2.12,"b":0.70},{"p":"LPS","k":"p","a":2.66,"b":0.66},{"p":"LPS","k":"p","a":3.12,"b":1.25},{"p":"LPS","k":"p","a":1.96,"b":1.58},
{"p":"LPS","k":"p","a":2.36,"b":0.55},{"p":"LPS","k":"p","a":2.95,"b":1.68},{"p":"LPS","k":"p","a":2.59,"b":1.88},{"p":"LPS","k":"p","a":3.20,"b":0.95},{"p":"LPS","k":"p","a":2.08,"b":1.82},{"p":"LPS","k":"p","a":2.82,"b":1.55},{"p":"LPS","k":"p","a":2.26,"b":1.02},{"p":"LPS","k":"p","a":3.28,"b":1.40},{"p":"LPS","k":"p","a":2.47,"b":1.24},{"p":"LPS","k":"p","a":2.76,"b":1.08},
{"p":"LPS","k":"p","a":2.30,"b":1.32},{"p":"LPS","k":"p","a":2.55,"b":1.42},{"p":"LPS","k":"p","a":2.40,"b":1.20},{"p":"LPS","k":"p","a":2.62,"b":1.16},{"p":"LPS","k":"p","a":2.34,"b":1.06},{"p":"LPS","k":"p","a":2.50,"b":1.50},{"p":"LPS","k":"p","a":2.44,"b":1.36},{"p":"LPS","k":"p","a":2.58,"b":1.04},{"p":"LPS","k":"p","a":2.27,"b":1.45},{"p":"LPS","k":"p","a":2.68,"b":1.30},
{"p":"LPS","k":"p","a":3.35,"b":1.15},{"p":"LPS","k":"p","a":2.02,"b":0.90},{"p":"LPS","k":"p","a":2.90,"b":1.90},{"p":"LPS","k":"p","a":2.14,"b":1.52},{"p":"LPS","k":"p","a":3.00,"b":0.80},{"p":"LPS","k":"p","a":2.70,"b":0.52},{"p":"LPS","k":"p","a":2.24,"b":1.70},{"p":"LPS","k":"p","a":2.86,"b":1.28},{"p":"LPS","k":"p","a":2.48,"b":0.46},{"p":"LPS","k":"p","a":3.15,"b":1.78},
{"p":"LPS","k":"p","a":1.94,"b":1.10},{"p":"LPS","k":"p","a":2.64,"b":1.58},{"p":"LPS","k":"p","a":2.36,"b":1.50},{"p":"LPS","k":"p","a":2.52,"b":1.26},{"p":"LPS","k":"p","a":2.42,"b":1.12},{"p":"LPS","k":"p","a":2.75,"b":1.20},{"p":"LPS","k":"p","a":2.19,"b":1.28},{"p":"LPS","k":"p","a":2.61,"b":0.88},{"p":"LPS","k":"p","a":2.83,"b":1.40},{"p":"LPS","k":"p","a":2.31,"b":0.74},
{"p":"LPS","k":"p","a":2.97,"b":1.02},{"p":"LPS","k":"p","a":2.06,"b":1.36},{"p":"LPS","k":"p","a":2.73,"b":0.82},{"p":"LPS","k":"p","a":3.08,"b":1.58},{"p":"LPS","k":"p","a":2.46,"b":1.62},{"p":"LPS","k":"p","a":2.56,"b":1.34},{"p":"LPS","k":"p","a":2.39,"b":1.26},{"p":"LPS","k":"p","a":2.67,"b":1.48},{"p":"LPS","k":"p","a":2.29,"b":1.40},{"p":"LPS","k":"p","a":2.51,"b":1.12},
{"p":"PMA + ion","k":"p","a":2.05,"b":1.40},{"p":"PMA + ion","k":"p","a":2.18,"b":1.30},{"p":"PMA + ion","k":"p","a":2.10,"b":1.52},{"p":"PMA + ion","k":"p","a":2.25,"b":1.45},{"p":"PMA + ion","k":"p","a":1.98,"b":1.22},{"p":"PMA + ion","k":"p","a":2.32,"b":1.36},{"p":"PMA + ion","k":"p","a":2.14,"b":1.18},{"p":"PMA + ion","k":"p","a":2.22,"b":1.60},{"p":"PMA + ion","k":"p","a":2.02,"b":1.65},{"p":"PMA + ion","k":"p","a":2.40,"b":1.28},
{"p":"PMA + ion","k":"p","a":2.08,"b":1.08},{"p":"PMA + ion","k":"p","a":2.28,"b":1.20},{"p":"PMA + ion","k":"p","a":1.96,"b":1.48},{"p":"PMA + ion","k":"p","a":2.36,"b":1.55},{"p":"PMA + ion","k":"p","a":2.16,"b":1.72},{"p":"PMA + ion","k":"p","a":2.46,"b":1.40},{"p":"PMA + ion","k":"p","a":2.00,"b":1.32},{"p":"PMA + ion","k":"p","a":2.30,"b":1.10},{"p":"PMA + ion","k":"p","a":2.12,"b":1.38},{"p":"PMA + ion","k":"p","a":2.42,"b":1.68},
{"p":"PMA + ion","k":"p","a":2.20,"b":1.02},{"p":"PMA + ion","k":"p","a":2.50,"b":1.25},{"p":"PMA + ion","k":"p","a":1.95,"b":1.85},{"p":"PMA + ion","k":"p","a":2.26,"b":1.82},{"p":"PMA + ion","k":"p","a":2.06,"b":0.95},{"p":"PMA + ion","k":"p","a":2.55,"b":1.50},{"p":"PMA + ion","k":"p","a":2.34,"b":1.95},{"p":"PMA + ion","k":"p","a":2.15,"b":2.05},{"p":"PMA + ion","k":"p","a":2.60,"b":1.15},{"p":"PMA + ion","k":"p","a":1.99,"b":2.12},
{"p":"PMA + ion","k":"p","a":2.38,"b":0.98},{"p":"PMA + ion","k":"p","a":2.62,"b":1.75},{"p":"PMA + ion","k":"p","a":2.09,"b":2.30},{"p":"PMA + ion","k":"p","a":2.44,"b":2.10},{"p":"PMA + ion","k":"p","a":2.70,"b":1.35},{"p":"PMA + ion","k":"p","a":2.24,"b":0.88},{"p":"PMA + ion","k":"p","a":2.03,"b":0.80},{"p":"PMA + ion","k":"p","a":2.52,"b":1.90},{"p":"PMA + ion","k":"p","a":2.80,"b":1.55},{"p":"PMA + ion","k":"p","a":2.19,"b":2.40},
{"p":"PMA + ion","k":"p","a":2.48,"b":0.90},{"p":"PMA + ion","k":"p","a":2.75,"b":1.05},{"p":"PMA + ion","k":"p","a":2.32,"b":2.25},{"p":"PMA + ion","k":"p","a":2.65,"b":2.00},{"p":"PMA + ion","k":"p","a":1.97,"b":2.50},{"p":"PMA + ion","k":"p","a":2.90,"b":1.30},{"p":"PMA + ion","k":"p","a":2.58,"b":2.32},{"p":"PMA + ion","k":"p","a":2.13,"b":0.75},{"p":"PMA + ion","k":"p","a":2.85,"b":1.80},{"p":"PMA + ion","k":"p","a":2.40,"b":2.60},
{"p":"PMA + ion","k":"p","a":3.00,"b":1.62},{"p":"PMA + ion","k":"p","a":2.68,"b":0.85},{"p":"PMA + ion","k":"p","a":2.95,"b":1.15},{"p":"PMA + ion","k":"p","a":3.10,"b":1.40},{"p":"PMA + ion","k":"p","a":2.28,"b":1.62},{"p":"PMA + ion","k":"p","a":2.11,"b":1.46},{"p":"PMA + ion","k":"p","a":2.36,"b":1.25},{"p":"PMA + ion","k":"p","a":2.04,"b":1.58},{"p":"PMA + ion","k":"p","a":2.21,"b":1.38},{"p":"PMA + ion","k":"p","a":2.16,"b":1.24},
{"p":"PMA + ion","k":"p","a":2.27,"b":1.52},{"p":"PMA + ion","k":"p","a":2.07,"b":1.30},{"p":"PMA + ion","k":"p","a":2.33,"b":1.44},{"p":"PMA + ion","k":"p","a":2.01,"b":1.12},{"p":"PMA + ion","k":"p","a":2.23,"b":1.70},{"p":"PMA + ion","k":"p","a":2.45,"b":1.15},{"p":"PMA + ion","k":"p","a":2.10,"b":1.92},{"p":"PMA + ion","k":"p","a":2.55,"b":1.35},{"p":"PMA + ion","k":"p","a":2.18,"b":1.50},{"p":"PMA + ion","k":"p","a":2.38,"b":1.78},
{"p":"PMA + ion","k":"p","a":3.20,"b":1.20},{"p":"PMA + ion","k":"p","a":2.78,"b":2.20},{"p":"PMA + ion","k":"p","a":3.05,"b":0.95},{"p":"PMA + ion","k":"p","a":2.62,"b":1.42},{"p":"PMA + ion","k":"p","a":2.88,"b":1.95},{"p":"PMA + ion","k":"p","a":3.15,"b":0.80},{"p":"PMA + ion","k":"p","a":2.72,"b":1.62},{"p":"PMA + ion","k":"p","a":3.25,"b":1.72},{"p":"PMA + ion","k":"p","a":2.50,"b":0.78},{"p":"PMA + ion","k":"p","a":2.96,"b":2.40},
{"p":"PMA + ion","k":"p","a":1.94,"b":1.05},{"p":"PMA + ion","k":"p","a":2.25,"b":2.15},{"p":"PMA + ion","k":"p","a":2.47,"b":1.58},{"p":"PMA + ion","k":"p","a":2.82,"b":1.22},{"p":"PMA + ion","k":"p","a":2.14,"b":1.00},{"p":"PMA + ion","k":"p","a":3.30,"b":1.10},{"p":"PMA + ion","k":"p","a":2.30,"b":1.90},{"p":"PMA + ion","k":"p","a":2.60,"b":0.70},{"p":"PMA + ion","k":"p","a":2.06,"b":2.20},{"p":"PMA + ion","k":"p","a":2.42,"b":1.48}
]
},
"vconcat": [
{
  "data": {"name": "hist"},
  "facet": {"column": {"field": "p", "type": "nominal", "sort": ["Ns", "IL-2", "LPS", "PMA + ion"], "header": {"title": null, "labelFont": "Lato", "labelFontSize": 22, "labelFontWeight": "bold", "labelColor": "#111", "labelPadding": 17}}},
  "spacing": {"column": 103},
  "bounds": "flush",
  "resolve": {"axis": {"x": "independent", "y": "independent"}},
  "spec": {
    "width": 190, "height": 193,
    "layer": [
      {"transform": [{"filter": "datum.k == 'i' || datum.k == 's'"}],
       "mark": {"type": "line", "strokeWidth": 1.6, "interpolate": "linear"},
       "encoding": {
         "x": {"field": "x", "type": "quantitative", "scale": {"domain": [0, 4], "nice": false}, "axis": {"values": [0, 1, 2, 3, 4], "labelExpr": "'10' + ['⁰','¹','²','³','⁴'][datum.value]", "title": "IL-6", "titleFont": "Lato", "titleFontSize": 16, "titleFontWeight": "bold", "titlePadding": 12, "labelFont": "DejaVu Sans", "labelFontSize": 13, "labelPadding": 2, "labelOverlap": false}},
         "y": {"field": "c", "type": "quantitative", "scale": {"domain": [0, 50], "nice": false}, "axis": {"values": [0, 10, 20, 30, 40, 50], "tickCount": 6, "labelExpr": "datum.value + ''", "labelAngle": 270, "labelOverlap": false, "title": "Counts", "titleFontSize": 12, "titleFontWeight": "normal", "titlePadding": 6, "labelFontSize": 13}},
         "color": {"field": "k", "type": "nominal", "scale": {"domain": ["i", "s"], "range": ["#f4a20e", "#6a1fc8"]}, "legend": null}
       }},
      {"transform": [{"filter": "datum.k == 'b'"}],
       "mark": {"type": "rule", "color": "#555", "strokeWidth": 1.2},
       "encoding": {"x": {"field": "x", "type": "quantitative"}, "x2": {"field": "x2"}, "y": {"field": "c", "type": "quantitative"}}},
      {"transform": [{"filter": "datum.k == 'e'"}],
       "mark": {"type": "rule", "color": "#555", "strokeWidth": 1.2},
       "encoding": {"x": {"field": "x", "type": "quantitative"}, "y": {"field": "c", "type": "quantitative"}, "y2": {"field": "c2"}}},
      {"transform": [{"filter": "datum.k == 'l'"}],
       "mark": {"type": "text", "font": "Lato", "fontSize": 14, "fontWeight": "bold", "color": "#222"},
       "encoding": {"x": {"field": "x", "type": "quantitative"}, "y": {"field": "c", "type": "quantitative"}, "text": {"field": "t"}}}
    ]
  }
},
{
  "data": {"name": "dots"},
  "facet": {"column": {"field": "p", "type": "nominal", "sort": ["Ns", "IL-2", "LPS", "PMA + ion"], "header": {"title": null, "labels": false}}},
  "spacing": {"column": 103},
  "bounds": "flush",
  "resolve": {"axis": {"x": "independent", "y": "independent"}},
  "title": {"text": "FIGURE 3", "subtitle": ["FACS histogram overlay plots (upper) for IL-6 expression in NK cells (CD3⁻CD56⁺) presented in the representative samples of young adults with", "corresponding dot plots (lower). Each overplay plot shows graphs depicting the isotype control (orange line) and respectively unstimulated NK cells", "(Ns), NK cells stimulated with IL-2 (IL-2), LPS (LPS), and PMA with ionomycin (PMA + ion) (purple line)."], "orient": "bottom", "anchor": "start", "frame": "bounds", "font": "Noto Sans", "fontSize": 13, "fontWeight": "normal", "color": "#666", "subtitleFont": "Noto Sans", "subtitleFontSize": 18.3, "subtitleColor": "#5a5a5a", "subtitleLineHeight": 22.5, "subtitlePadding": 7, "offset": 45, "dx": -70},
  "spec": {
    "width": 190, "height": 189,
    "layer": [
      {"transform": [{"filter": "datum.k == 'p'"}],
       "mark": {"type": "square", "size": 3.5, "color": "#35357f", "opacity": 0.7},
       "encoding": {
         "x": {"field": "a", "type": "quantitative", "scale": {"domain": [0, 4], "nice": false}, "axis": {"values": [0, 1, 2, 3, 4], "labelExpr": "'10' + ['⁰','¹','²','³','⁴'][datum.value]", "title": "CD56", "titleFont": "Lato", "titleFontSize": 17, "titleFontWeight": "bold", "titlePadding": 12, "labelFont": "DejaVu Sans", "labelFontSize": 13, "labelPadding": 2, "labelOverlap": false}},
         "y": {"field": "b", "type": "quantitative", "scale": {"domain": [0, 4], "nice": false}, "axis": {"values": [0, 1, 2, 3, 4], "labelExpr": "'10' + ['⁰','¹','²','³','⁴'][datum.value]", "labelAngle": 270, "labelOverlap": false, "title": "IL-6", "titleFont": "Lato", "titleFontSize": 17, "titleFontWeight": "bold", "titlePadding": 8, "labelFont": "DejaVu Sans", "labelFontSize": 13}}
       }},
      {"transform": [{"filter": "datum.k == 'g'"}],
       "mark": {"type": "rule", "color": "#444", "strokeWidth": 1},
       "encoding": {"x": {"field": "a", "type": "quantitative"}}},
      {"transform": [{"filter": "datum.k == 'g'"}],
       "mark": {"type": "rule", "color": "#444", "strokeWidth": 1},
       "encoding": {"y": {"field": "b", "type": "quantitative"}}},
      {"transform": [{"filter": "datum.k == 'l'"}],
       "mark": {"type": "text", "font": "Lato", "fontSize": 14.5, "fontWeight": "bold", "color": "#222"},
       "encoding": {"x": {"field": "a", "type": "quantitative"}, "y": {"field": "b", "type": "quantitative"}, "text": {"field": "t"}}}
    ]
  }
}
]
}
